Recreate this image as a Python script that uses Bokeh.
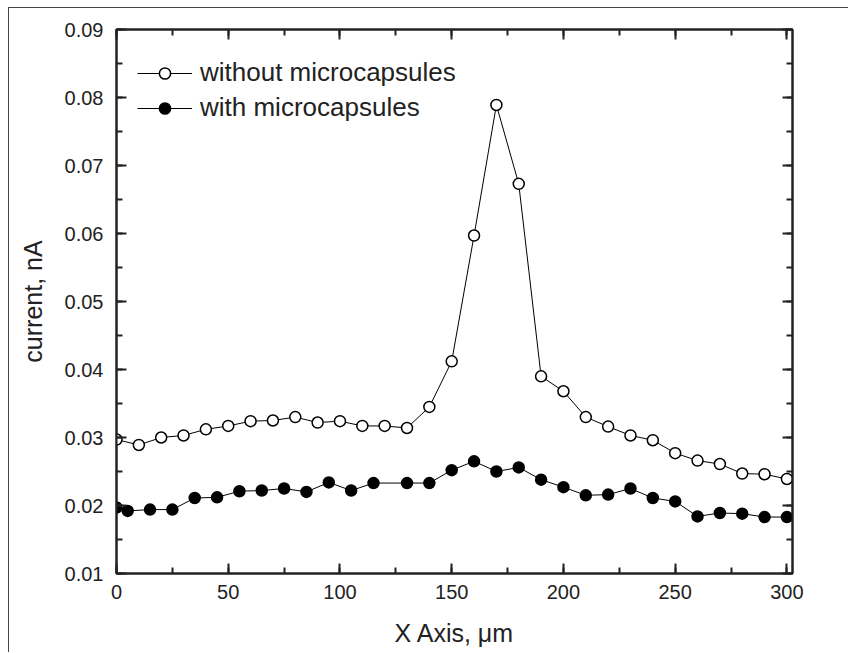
from bokeh.plotting import figure
from bokeh.models import (Range1d, LinearAxis, SingleIntervalTicker, PrintfTickFormatter,
                          Legend, LegendItem, CustomJSTickFormatter)
from bokeh.embed import file_html
from bokeh.resources import INLINE

# data
x_without = [0, 10, 20, 30, 40, 50, 60, 70, 80, 90, 100, 110, 120, 130, 140, 150,
             160, 170, 180, 190, 200, 210, 220, 230, 240, 250, 260, 270, 280, 290, 300]
y_without = [0.0297, 0.0289, 0.0300, 0.0303, 0.0312, 0.0317, 0.0324, 0.0325, 0.0330, 0.0322,
             0.0324, 0.0317, 0.0317, 0.0314, 0.0345, 0.0412, 0.0597, 0.0789, 0.0673, 0.0390,
             0.0368, 0.0330, 0.0316, 0.0303, 0.0296, 0.0277, 0.0266, 0.0261, 0.0247, 0.0246, 0.0239]
x_with = [0, 5, 15, 25, 35, 45, 55, 65, 75, 85, 95, 105, 115, 130, 140, 150,
          160, 170, 180, 190, 200, 210, 220, 230, 240, 250, 260, 270, 280, 290, 300]
y_with = [0.0197, 0.0192, 0.0194, 0.0194, 0.0211, 0.0212, 0.0221, 0.0222, 0.0225, 0.0220,
          0.0234, 0.0222, 0.0233, 0.0233, 0.0233, 0.0252, 0.0265, 0.0250, 0.0256, 0.0238,
          0.0227, 0.0215, 0.0216, 0.0225, 0.0211, 0.0206, 0.0184, 0.0189, 0.0188, 0.0183, 0.0183]
label_without = "without microcapsules"
label_with = "with microcapsules"
x_title = "X Axis, \u03bcm"
y_title = "current, nA"

FONT = "Liberation Sans"

p = figure(width=840, height=645, output_backend="svg", toolbar_location=None,
           x_range=Range1d(0, 302.5), y_range=Range1d(0.01, 0.09),
           x_axis_location=None, y_axis_location=None,
           min_border_left=107, min_border_right=57, min_border_top=21, min_border_bottom=80)
p.styles = {"margin-left": "8px", "margin-top": "7px",
            "border-top": "1px solid #444", "border-left": "1px solid #444"}
p.grid.visible = False
p.outline_line_color = "#222"
p.outline_line_width = 2
p.background_fill_color = "white"
p.border_fill_color = "white"

def make_axis(interval, show_labels, title=None):
    ax = LinearAxis(ticker=SingleIntervalTicker(interval=interval, num_minor_ticks=2))
    ax.axis_line_color = "#222"
    ax.axis_line_width = 2
    ax.major_tick_line_color = "#222"
    ax.major_tick_line_width = 2
    ax.minor_tick_line_color = "#222"
    ax.minor_tick_line_width = 2
    ax.major_tick_in = 10
    ax.major_tick_out = 0
    ax.minor_tick_in = 6
    ax.minor_tick_out = 0
    ax.major_label_text_font = FONT
    ax.major_label_text_color = "#222"
    ax.major_label_text_font_size = "20px"
    if not show_labels:
        ax.formatter = CustomJSTickFormatter(code="return ''")
        ax.major_label_standoff = 0
    if title:
        ax.axis_label = title
        ax.axis_label_text_font = FONT
        ax.axis_label_text_font_size = "25px"
        ax.axis_label_text_font_style = "normal"
        ax.axis_label_text_color = "#222"
    return ax

xb = make_axis(50, True, x_title)
xb.major_label_standoff = 11
xb.axis_label_standoff = 17
yl = make_axis(0.01, True, y_title)
yl.formatter = PrintfTickFormatter(format="%.2f")
yl.major_label_standoff = 13
yl.axis_label_standoff = 15
xt = make_axis(50, False)
yr = make_axis(0.01, False)
p.add_layout(xb, "below")
p.add_layout(yl, "left")
p.add_layout(xt, "above")
p.add_layout(yr, "right")

l1 = p.line(x_without, y_without, line_color="black", line_width=1)
s1 = p.scatter(x_without, y_without, size=11, marker="circle", fill_color="white",
               line_color="black", line_width=1.5)
l2 = p.line(x_with, y_with, line_color="black", line_width=1)
s2 = p.scatter(x_with, y_with, size=11, marker="circle", fill_color="black",
               line_color="black", line_width=1.5)

legend = Legend(items=[LegendItem(label=label_without, renderers=[l1, s1]),
                       LegendItem(label=label_with, renderers=[l2, s2])],
                location=(21, 450))
legend.border_line_color = None
legend.background_fill_alpha = 0
legend.padding = 0
legend.margin = 0
legend.spacing = 4
legend.glyph_width = 55
legend.glyph_height = 28
legend.label_standoff = 8
legend.label_text_font = FONT
legend.label_text_font_size = "26px"
legend.label_text_color = "#222"
legend.label_height = 28
p.add_layout(legend, "center")

open("out.html", "w").write(file_html(p, INLINE))
